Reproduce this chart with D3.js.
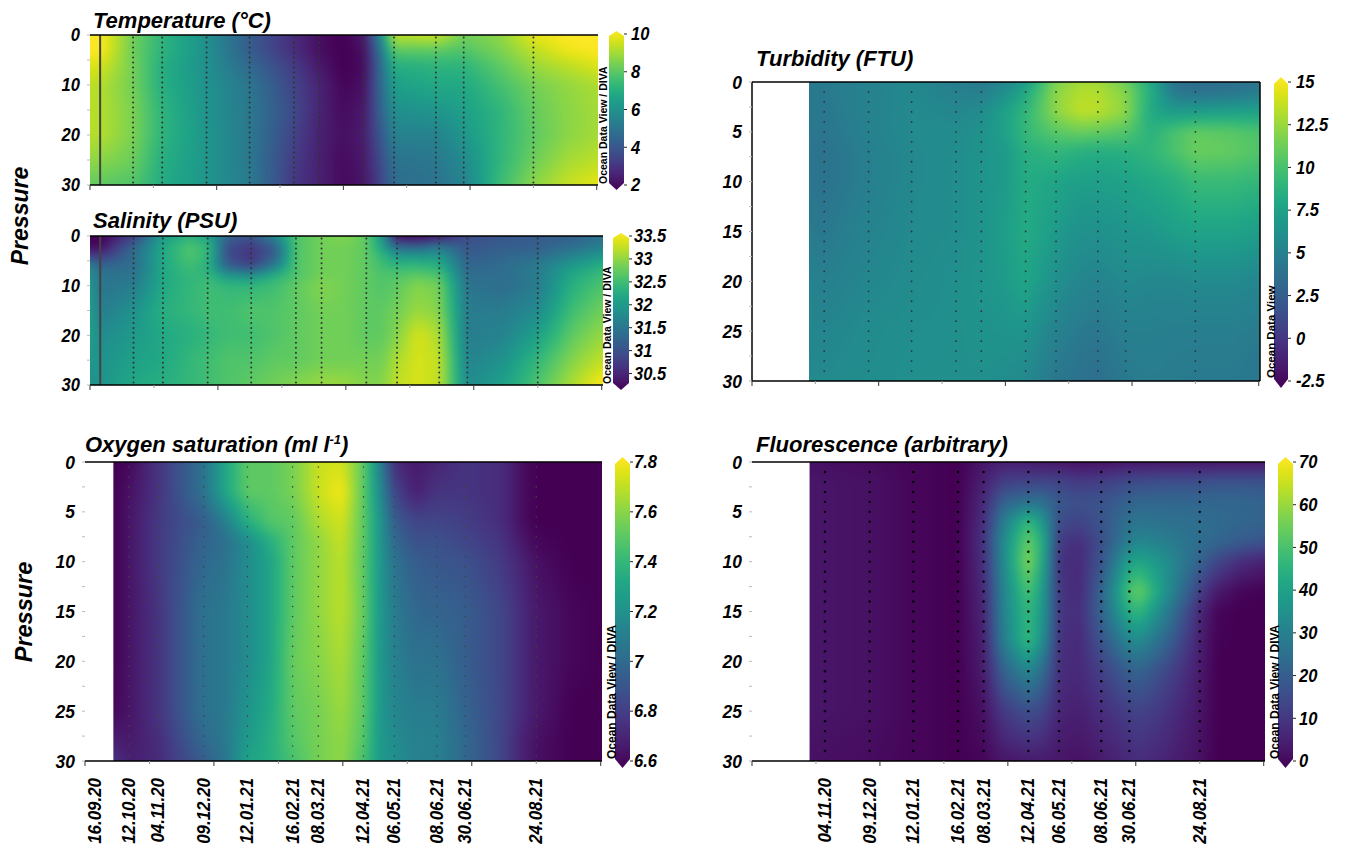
<!DOCTYPE html>
<html><head><meta charset="utf-8">
<script src="https://cdn.jsdelivr.net/npm/d3@7/dist/d3.min.js"></script>
<style>html,body{margin:0;padding:0;background:#fff;overflow:hidden}svg{display:block}
text{font-family:"Liberation Sans",Arial,sans-serif;font-weight:bold;font-style:italic;fill:#000}</style>
</head><body><svg id="chart" width="1345" height="849"></svg>
<script>
// ---- sampling stations and axis labels ----
const stationDates = ["16.09.20","12.10.20","04.11.20","09.12.20","12.01.21","16.02.21","08.03.21","12.04.21","06.05.21","08.06.21","30.06.21","24.08.21"];
const axisStart = "08.09.20", axisEnd = "14.10.21";

// ---- Temperature ----
const tempDepths = [0,3,6,10,15,20,25,30];
const tempColumns = ["08.09.20","16.09.20","12.10.20","04.11.20","09.12.20","12.01.21","16.02.21","08.03.21","26.03.21","12.04.21","24.04.21","06.05.21","08.06.21","30.06.21","28.07.21","24.08.21","20.09.21","14.10.21"];
const tempProfiles = [
 [10,10,9.6,9.2,9.1,9.1,8.7,8.1],
 [10,10,9.5,9.1,9.1,9.1,8.6,8.0],
 [8.3,8.2,8.3,8.3,8.4,8.4,8.2,7.8],
 [7.2,7.2,7.0,7.0,7.2,7.2,7.0,6.9],
 [6.0,6.0,6.0,6.1,6.1,6.2,6.2,6.2],
 [4.3,4.3,4.7,5.1,5.2,5.2,5.2,5.3],
 [3.0,3.0,3.4,3.6,3.8,3.6,3.4,3.3],
 [2.3,2.3,2.5,2.8,2.8,2.7,2.7,2.7],
 [2.0,2.0,2.0,2.1,2.2,2.3,2.2,2.2],
 [2.5,2.3,2.2,2.3,2.5,2.6,2.5,2.4],
 [5.5,4.8,4.5,4.5,4.3,4.0,3.7,3.5],
 [9.2,8.0,7.0,6.5,6.0,5.5,5.0,4.8],
 [9.4,8.0,7.2,6.8,6.2,5.5,5.2,5.0],
 [8.3,7.8,7.2,6.8,6.5,6.2,5.8,5.5],
 [8.6,8.4,8.0,7.6,7.2,7.2,7.2,7.4],
 [9.7,9.2,8.8,8.3,8.1,8.0,8.2,8.6],
 [10,9.8,9.2,8.7,8.6,8.6,8.9,9.3],
 [10,10,9.6,9.0,8.9,8.9,9.2,9.7]];

// ---- Salinity ----
const salDepths = [0,2,4,6,8,10,15,20,25,30];
const salColumns = ["08.09.20","16.09.20","12.10.20","04.11.20","25.11.20","09.12.20","25.12.20","12.01.21","30.01.21","16.02.21","08.03.21","26.03.21","12.04.21","24.04.21","06.05.21","22.05.21","08.06.21","30.06.21","28.07.21","24.08.21","20.09.21","14.10.21"];
const salProfiles = [
 [30.25,30.3,30.9,31.7,31.9,32,32.1,32.1,32.0,31.9],
 [30.25,30.3,30.8,31.3,31.5,31.5,31.6,31.8,31.9,31.9],
 [30.8,31.3,31.4,31.4,31.5,31.6,31.9,32.0,32.1,32.2],
 [32.0,32.2,32.2,32.2,32.2,32.2,32.3,32.2,32.2,32.3],
 [32.3,32.6,32.6,32.5,32.4,32.4,32.4,32.3,32.4,32.4],
 [32.1,32.4,32.4,32.3,32.4,32.5,32.5,32.4,32.5,32.5],
 [31.3,31.0,31.0,31.2,32.0,32.4,32.5,32.5,32.6,32.6],
 [31.1,30.8,30.7,30.9,31.9,32.4,32.6,32.5,32.6,32.7],
 [31.8,31.2,31.2,31.6,32.3,32.5,32.6,32.6,32.7,32.8],
 [32.6,32.6,32.6,32.6,32.6,32.7,32.7,32.7,32.7,32.9],
 [32.8,32.8,32.8,32.8,32.8,32.9,32.8,32.8,32.8,33.0],
 [32.9,32.8,32.8,32.8,32.8,32.8,32.8,32.8,32.8,33.0],
 [32.7,32.7,32.7,32.7,32.7,32.7,32.7,32.7,32.8,32.9],
 [32.0,32.1,32.4,32.5,32.6,32.6,32.7,32.7,32.8,32.9],
 [30.3,31.3,32.0,32.4,32.6,32.7,32.8,32.9,33.1,33.2],
 [30.3,31.2,32.0,32.4,32.7,32.9,33.0,33.3,33.3,33.3],
 [30.4,31.5,32.0,32.3,32.6,32.8,32.9,33.1,33.2,33.2],
 [31.0,31.1,31.2,31.3,31.4,31.5,31.6,31.6,31.7,31.8],
 [31.1,31.2,31.3,31.4,31.4,31.4,31.6,31.7,31.9,32.1],
 [31.2,31.2,31.4,31.6,31.6,31.6,31.8,32.1,32.4,32.6],
 [31.2,31.4,31.7,32.0,32.2,32.3,32.5,32.7,32.9,33.1],
 [31.5,31.6,32.0,32.3,32.5,32.6,32.8,33.0,33.2,33.5]];

// ---- Oxygen ----
const oxyDepths = [0,3,6,8,10,15,20,25,28,30];
const oxyColumns = ["30.09.20","12.10.20","04.11.20","09.12.20","25.12.20","12.01.21","30.01.21","16.02.21","08.03.21","26.03.21","12.04.21","24.04.21","06.05.21","22.05.21","08.06.21","30.06.21","28.07.21","12.08.21","24.08.21","20.09.21","14.10.21"];
const oxyProfiles = [
 [6.6,6.6,6.6,6.6,6.6,6.6,6.6,6.62,6.7,6.78],
 [6.62,6.65,6.66,6.66,6.66,6.66,6.66,6.66,6.68,6.7],
 [6.78,6.78,6.8,6.8,6.8,6.78,6.78,6.78,6.75,6.74],
 [7.05,7.05,6.95,6.98,7.0,7.05,7.05,7.05,7.0,6.95],
 [7.3,7.3,7.1,7.03,7.05,7.08,7.08,7.08,7.08,7.05],
 [7.5,7.5,7.35,7.18,7.18,7.18,7.18,7.22,7.25,7.3],
 [7.5,7.5,7.48,7.35,7.3,7.3,7.3,7.33,7.35,7.35],
 [7.55,7.55,7.5,7.5,7.5,7.5,7.52,7.5,7.48,7.45],
 [7.7,7.7,7.65,7.6,7.6,7.6,7.58,7.55,7.55,7.55],
 [7.72,7.78,7.72,7.7,7.68,7.68,7.65,7.62,7.6,7.6],
 [7.5,7.5,7.5,7.5,7.5,7.52,7.5,7.5,7.48,7.45],
 [7.15,7.2,7.25,7.25,7.25,7.25,7.25,7.25,7.25,7.25],
 [6.75,6.85,6.95,7.0,7.05,7.1,7.12,7.15,7.18,7.2],
 [6.68,6.7,6.85,6.9,6.95,7.0,7.05,7.1,7.12,7.12],
 [6.72,6.78,6.85,6.9,6.92,6.98,7.05,7.1,7.12,7.12],
 [6.78,6.78,6.82,6.85,6.9,6.95,6.95,6.98,7.0,7.0],
 [6.75,6.75,6.75,6.78,6.8,6.85,6.85,6.85,6.85,6.85],
 [6.65,6.65,6.65,6.68,6.72,6.75,6.75,6.75,6.72,6.72],
 [6.6,6.6,6.6,6.62,6.65,6.68,6.68,6.68,6.65,6.65],
 [6.6,6.6,6.6,6.6,6.6,6.62,6.62,6.6,6.6,6.6],
 [6.6,6.6,6.6,6.6,6.6,6.6,6.6,6.6,6.6,6.6]];

// ---- Turbidity ----
const turbDepths = [0,1,3,5,7,10,15,20,25,30];
const turbColumns = ["23.10.20","04.11.20","09.12.20","12.01.21","16.02.21","08.03.21","27.03.21","12.04.21","06.05.21","25.05.21","08.06.21","30.06.21","20.07.21","08.08.21","24.08.21","21.09.21","14.10.21"];
const turbProfiles = [
 [4.6,4.6,4.6,4.5,4.4,4.4,4.7,5.2,5.6,5.8],
 [4.6,4.6,4.5,4.3,4.1,4.1,4.5,5.0,5.5,5.8],
 [5.2,5.2,5.2,5.2,5.0,5.0,5.3,5.6,5.9,6.0],
 [5.7,5.7,5.8,5.8,5.7,5.7,5.8,5.9,6.1,6.2],
 [4.9,5.2,5.6,5.9,6,6,6.0,6.2,6.2,6.2],
 [4.5,5,6,6.3,6.5,6.5,6.5,6.6,6.4,6.2],
 [5.5,6.2,7.5,7.5,7,7,7.3,7,6.5,6.0],
 [7,8,9,9.2,8.5,8.2,8.2,7.8,6.6,5.7],
 [11.5,12,12,10.5,9,7.7,7,6.2,5.2,4.4],
 [12.5,13,13.3,11,8.5,7.3,6.3,5.5,4.6,4],
 [12.5,13,13.2,10.8,8.3,7.3,6.3,5.3,4.4,3.8],
 [11,11.8,12,10.3,8.5,7.5,6.6,5.8,5,4.6],
 [8,8.3,8,8.6,9,8,6.8,5.6,5,4.8],
 [4,4.5,7,10,10,8.5,7.3,5.6,4.9,4.7],
 [3.6,4,7.2,10.8,11,9.3,7.6,5.8,4.9,4.6],
 [4,4.2,7.5,10.5,10.8,9.3,7.6,5.8,4.9,4.6],
 [4.3,4.8,7.5,10,10.2,9,7.2,5.5,4.7,4.4]];

// ---- Fluorescence ----
const fluoDepths = [0,2,4,6,8,10,13,15,18,21,25,30];
const fluoColumns = ["23.10.20","09.12.20","12.01.21","16.02.21","08.03.21","24.03.21","12.04.21","24.04.21","06.05.21","22.05.21","08.06.21","30.06.21","08.07.21","26.07.21","24.08.21","06.09.21","24.09.21","14.10.21"];
const fluoProfiles = [
 [3,4,4,4,4,4,4,4,4,4,4,3],
 [2,3,3,3,3,3,3,3,3,3,3,2],
 [1,1,1,1,1,1,1,1,1,1,1,1],
 [0,0,0,0,0,0,0,0,0,0,0,0],
 [4,6,8,9,10,9,8,7,6,5,3,1],
 [6,13,22,30,34,34,32,32,30,22,12,4],
 [5,14,26,47,54,57,50,47,47,32,17,5],
 [4,15,25,36,42,40,37,36,33,24,14,5],
 [4,14,19,16,12,10,11,11,10,9,7,4],
 [3,12,17,14,9,8,8,9,8,8,6,3],
 [3,13,18,18,17,18,22,22,18,13,9,5],
 [4,16,22,26,30,40,50,44,32,21,13,8],
 [4,16,23,27,32,41,54,46,33,22,14,9],
 [4,17,23,26,30,36,38,32,24,16,11,7],
 [4,17,23,25,25,22,13,8,6,5,4,3],
 [4,18,23,24,23,15,5,1,0.5,0,0,0],
 [4,18,23,23,20,9,1,0,0,0,0,0],
 [4,18,22,22,18,6,0,0,0,0,0,0]];

// ---- colour-bar ticks ----
const tempTicks = [2,4,6,8,10];
const salTicks = [30.5,31,31.5,32,32.5,33,33.5];
const oxyTicks = [6.6,6.8,7,7.2,7.4,7.6,7.8];
const turbTicks = [-2.5,0,2.5,5,7.5,10,12.5,15];
const fluoTicks = [0,10,20,30,40,50,60,70];

// ---- panel layout ----
const panels = [
 {title:"Temperature (°C)",tx:93,ty:28,box:[90,598,35,185],depths:tempDepths,cols:tempColumns,prof:tempProfiles,domain:[2,10],ticks:tempTicks,yMajor:[0,10,20,30],yMinor:[5,15,25],
  cb:[609,624,34,185],tip:3,lab:7,ov:"Ocean Data View / DIVA",ovx:607,ovy:184,ovs:10.5,stations:stationDates.slice(1),line:true,dot:{step:1,r:1,c:"#333"},xLabels:[],yf:18},
 {title:"Salinity (PSU)",tx:93,ty:228,box:[90,603,236,385],depths:salDepths,cols:salColumns,prof:salProfiles,domain:[30.25,33.5],ticks:salTicks,yMajor:[0,10,20,30],yMinor:[5,15,25],
  cb:[613,629,236,385],tip:3,lab:5,ov:"Ocean Data View / DIVA",ovx:611,ovy:384,ovs:10.5,stations:stationDates.slice(1),line:true,dot:{step:1,r:1,c:"#333"},xLabels:[],yf:18},
 {title:"Oxygen saturation (ml l",sup:"-1",titleEnd:")",tx:85,ty:452,box:[85,602,462,761],depths:oxyDepths,cols:oxyColumns,prof:oxyProfiles,domain:[6.6,7.8],ticks:oxyTicks,yMajor:[0,5,10,15,20,25,30],yMinor:[2.5,7.5,12.5,17.5,22.5,27.5],
  cb:[615,630,462,761],tip:5,lab:4,ov:"Ocean Data View / DIVA",ovx:616,ovy:759,ovs:12,stations:stationDates.slice(1),dot:{step:1,r:.8,c:"#444"},xLabels:stationDates,yf:19},
 {title:"Turbidity (FTU)",tx:756,ty:66,box:[752,1260,82,381],depths:turbDepths,cols:turbColumns,prof:turbProfiles,domain:[-2.5,15],ticks:turbTicks,yMajor:[0,5,10,15,20,25,30],yMinor:[2.5,7.5,12.5,17.5,22.5,27.5],
  cb:[1274,1288,82,381],tip:5,lab:8,ov:"Ocean Data View",ovx:1275,ovy:378,ovs:11.5,stations:stationDates.slice(2),dot:{step:1,r:.9,c:"#333",from:1,to:29},xLabels:[],yf:19},
 {title:"Fluorescence (arbitrary)",tx:756,ty:452,box:[752,1265,462,761],depths:fluoDepths,cols:fluoColumns,prof:fluoProfiles,domain:[0,70],ticks:fluoTicks,yMajor:[0,5,10,15,20,25,30],yMinor:[2.5,7.5,12.5,17.5,22.5,27.5],
  cb:[1278,1293,462,761],tip:5,lab:6,ov:"Ocean Data View / DIVA",ovx:1279,ovy:759,ovs:12,stations:stationDates.slice(2),dot:{step:1,r:1.2,c:"#000",from:1,to:29},xLabels:stationDates.slice(2),yf:19}
];

const parse = d3.timeParse("%d.%m.%y");
const svg = d3.select("#chart");
const defs = svg.append("defs");
const DAY = 86400000;

function bracket(arr, v){
  let i = d3.bisectRight(arr, v) - 1;
  i = Math.max(0, Math.min(arr.length - 2, i));
  const t = Math.max(0, Math.min(1, (v - arr[i]) / (arr[i+1] - arr[i])));
  return [i, t];
}

panels.forEach((p, pi) => {
  const [x0,x1,y0,y1] = p.box;
  const x = d3.scaleTime().domain([parse(axisStart), parse(axisEnd)]).range([x0,x1]);
  const y = d3.scaleLinear().domain([0,30]).range([y0,y1]);
  const colour = d3.scaleSequential(d3.interpolateViridis).domain(p.domain).clamp(true);
  const colTimes = p.cols.map(c => +parse(c));
  const firstX = x(colTimes[0]);

  // field: station profiles coloured through the scales, on a canvas embedded in the SVG
  const m = 12, W = x1-x0+2*m, H = y1-y0+2*m;
  const raw = document.createElement("canvas"); raw.width=W; raw.height=H;
  const rc = raw.getContext("2d"); const img = rc.createImageData(W,H);
  for(let j=0;j<H;j++){
    const [ri,rt] = bracket(p.depths, y.invert(y0-m+j+.5));
    for(let i=0;i<W;i++){
      const [ci,ct] = bracket(colTimes, +x.invert(x0-m+i+.5));
      const a=p.prof[ci][ri],b=p.prof[ci][ri+1],c=p.prof[ci+1][ri],d=p.prof[ci+1][ri+1];
      const v=(a*(1-rt)+b*rt)*(1-ct)+(c*(1-rt)+d*rt)*ct;
      const q=d3.rgb(colour(v)); const k=(j*W+i)*4;
      img.data[k]=q.r;img.data[k+1]=q.g;img.data[k+2]=q.b;img.data[k+3]=255;
    }
  }
  rc.putImageData(img,0,0);
  const out = document.createElement("canvas"); out.width=W; out.height=H;
  const oc = out.getContext("2d"); oc.filter="blur(4px)"; oc.drawImage(raw,0,0);

  defs.append("clipPath").attr("id","clip"+pi).append("rect")
    .attr("x",firstX).attr("y",y0).attr("width",x1-firstX).attr("height",y1-y0);
  const g = svg.append("g");
  g.append("image").attr("href",out.toDataURL()).attr("x",x0-m).attr("y",y0-m).attr("width",W).attr("height",H)
    .attr("clip-path",`url(#clip${pi})`);

  // station dots
  const from = p.dot.from===undefined?0.5:p.dot.from, to=p.dot.to===undefined?29.5:p.dot.to;
  p.stations.forEach(s=>{
    g.append("g").selectAll("circle").data(d3.range(from,to+.01,p.dot.step)).join("circle")
      .attr("cx",x(parse(s))).attr("cy",d=>y(d)).attr("r",p.dot.r).attr("fill",p.dot.c);
  });
  if(p.line){
    g.append("line").attr("x1",x(parse(stationDates[0]))).attr("x2",x(parse(stationDates[0])))
      .attr("y1",y0).attr("y2",y1).attr("stroke","#444").attr("stroke-width",2);
  }

  // frame
  g.append("line").attr("x1",x0).attr("x2",x1).attr("y1",y0).attr("y2",y0).attr("stroke","#000").attr("stroke-width",1.5);
  g.append("line").attr("x1",x0).attr("x2",x1).attr("y1",y1).attr("y2",y1).attr("stroke","#000").attr("stroke-width",1.5);
  if(pi===3){ g.append("line").attr("x1",x0).attr("x2",x0).attr("y1",y0).attr("y2",y1).attr("stroke","#000").attr("stroke-width",1.5);
              g.append("line").attr("x1",x1).attr("x2",x1).attr("y1",y0).attr("y2",y1).attr("stroke","#000").attr("stroke-width",1.5); }

  // y axis
  g.append("g").selectAll("text").data(p.yMajor).join("text")
    .attr("transform",d=>`translate(${x0-10},${y(d)}) scale(.92,1)`).attr("dy","0.35em").attr("text-anchor","end")
    .attr("font-size",p.yf).text(d=>d);
  g.append("g").selectAll("line").data(p.yMajor.concat(p.yMinor)).join("line")
    .attr("x1",x0-3).attr("x2",x0).attr("y1",d=>y(d)).attr("y2",d=>y(d)).attr("stroke","#bbb");

  // x axis ticks every 50 days
  const tk = d3.range(0,9).map(i=>new Date(+parse(axisStart)+i*50*DAY));
  g.append("g").selectAll("line").data(tk).join("line")
    .attr("x1",d=>x(d)).attr("x2",d=>x(d)).attr("y1",y1).attr("y2",(d,i)=>y1+(i%2?3:5))
    .attr("stroke",(d,i)=>i%2?"#999":"#333");

  // date labels
  g.append("g").selectAll("text").data(p.xLabels).join("text")
    .attr("text-anchor","end").attr("font-size",18)
    .attr("transform",d=>`translate(${x(parse(d))+6},${y1+17}) rotate(-90) scale(.94,1)`).text(d=>d);

  // title
  const t = g.append("text").attr("x",p.tx).attr("y",p.ty).attr("font-size",22).text(p.title);
  if(p.sup){ t.append("tspan").attr("dy",-8).attr("font-size",13).text(p.sup);
             t.append("tspan").attr("dy",8).attr("font-size",22).text(p.titleEnd); }

  // colour bar
  const [cx0,cx1,cy0,cy1] = p.cb;
  const cy = d3.scaleLinear().domain(p.domain).range([cy1,cy0]);
  const gid = "grad"+pi;
  const gr = defs.append("linearGradient").attr("id",gid).attr("x1",0).attr("x2",0).attr("y1",1).attr("y2",0);
  d3.range(0,1.001,.05).forEach(s=>gr.append("stop").attr("offset",s).attr("stop-color",d3.interpolateViridis(s)));
  const mid=(cx0+cx1)/2;
  g.append("path").attr("fill",`url(#${gid})`)
    .attr("d",`M${cx0},${cy0+2}L${mid},${cy0-p.tip}L${cx1},${cy0+2}L${cx1},${cy1-2}L${mid},${cy1+p.tip+2}L${cx0},${cy1-2}Z`);
  g.append("g").selectAll("line").data(p.ticks).join("line")
    .attr("x1",cx1).attr("x2",cx1+3).attr("y1",d=>cy(d)).attr("y2",d=>cy(d)).attr("stroke","#222");
  g.append("g").selectAll("text").data(p.ticks).join("text")
    .attr("transform",d=>`translate(${cx1+p.lab},${cy(d)}) scale(.92,1)`).attr("dy","0.35em").attr("font-size",18).text(d=>d);
  g.append("text").attr("text-anchor","start").attr("font-size",p.ovs)
    .attr("style","font-style:normal;font-weight:bold")
    .attr("transform",`translate(${p.ovx},${p.ovy}) rotate(-90)`).text(p.ov);
});

// shared axis titles
svg.append("text").attr("text-anchor","middle").attr("font-size",23)
  .attr("transform","translate(28,216) rotate(-90)").text("Pressure");
svg.append("text").attr("text-anchor","middle").attr("font-size",23.5)
  .attr("transform","translate(32,612) rotate(-90)").text("Pressure");
</script></body></html>
